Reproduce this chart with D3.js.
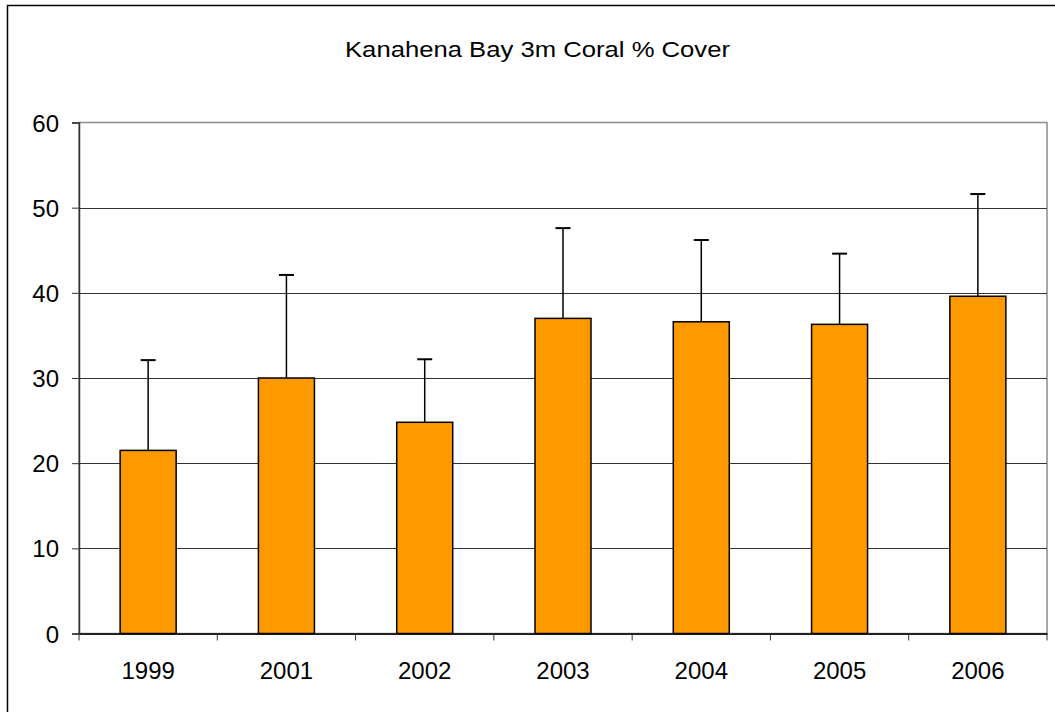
<!DOCTYPE html>
<html>
<head>
<meta charset="utf-8">
<script src="https://cdn.jsdelivr.net/npm/d3@7"></script>
<style>
  body { margin: 0; background: #fff; }
  text { font-family: Arial, "Liberation Sans", sans-serif; fill: #000; }
</style>
</head>
<body>
<svg id="chart" width="1055" height="712"></svg>
<script>
var years = ['1999', '2001', '2002', '2003', '2004', '2005', '2006'];
var cover = [21.5, 30.0, 24.8, 37.0, 36.6, 36.3, 39.6];
var errTop = [32.1, 42.1, 32.2, 47.6, 46.2, 44.6, 51.6];
var yTicks = [0, 10, 20, 30, 40, 50, 60];

var LEFT = 79, RIGHT = 1047, TOP = 122.5, BOTTOM = 633.5;

var svg = d3.select('#chart');

// outer chart border (only left and top visible)
svg.append('rect')
    .attr('x', 7.5).attr('y', 5.5)
    .attr('width', 1200).attr('height', 900)
    .attr('fill', 'none')
    .attr('stroke', '#000')
    .attr('stroke-width', 1.5);

svg.append('text')
    .attr('x', 537.5).attr('y', 57)
    .attr('text-anchor', 'middle')
    .attr('textLength', 385)
    .attr('lengthAdjust', 'spacingAndGlyphs')
    .style('font-size', '22px')
    .text('Kanahena Bay 3m Coral % Cover');

var x = d3.scaleBand().domain(years).range([LEFT, RIGHT]);
var y = d3.scaleLinear().domain([0, 60]).range([BOTTOM, TOP]);

// plot area frame
svg.append('rect')
    .attr('x', LEFT).attr('y', TOP)
    .attr('width', RIGHT - LEFT).attr('height', BOTTOM - TOP)
    .attr('fill', 'none')
    .attr('stroke', '#8c8c8c')
    .attr('stroke-width', 1.5);

// gridlines
svg.append('g').selectAll('line')
    .data(yTicks.slice(1, -1))
    .enter().append('line')
    .attr('x1', LEFT).attr('x2', RIGHT)
    .attr('y1', (d) => Math.round(y(d)) + 0.5)
    .attr('y2', (d) => Math.round(y(d)) + 0.5)
    .attr('stroke', '#333')
    .attr('stroke-width', 1);

// y axis
var yAxis = svg.append('g')
    .attr('transform', 'translate(' + LEFT + ',0)')
    .call(d3.axisLeft(y).tickValues(yTicks).tickSize(7).tickPadding(13).tickFormat(d3.format('d')));
yAxis.select('.domain').attr('stroke', '#333').attr('stroke-width', 1.5);
yAxis.selectAll('.tick line').attr('stroke', '#333');
yAxis.selectAll('text').style('font-size', '24px').attr('font-family', null).attr('dy', '0.36em');

// x axis
var xAxis = svg.append('g')
    .attr('transform', 'translate(0,' + BOTTOM + ')')
    .call(d3.axisBottom(x).tickSize(0).tickPadding(0));
xAxis.select('.domain').attr('stroke', '#222').attr('stroke-width', 2);
xAxis.selectAll('text').style('font-size', '24px').attr('font-family', null)
    .attr('dy', null).attr('y', 45.5);

// category separators on x axis
svg.append('g').selectAll('line')
    .data(years.concat(['end']))
    .enter().append('line')
    .attr('x1', (d, i) => LEFT + i * x.step())
    .attr('x2', (d, i) => LEFT + i * x.step())
    .attr('y1', BOTTOM).attr('y2', BOTTOM + 7)
    .attr('stroke', '#333');

var barW = x.bandwidth() * 0.405;
var data = years.map((d, i) => ({ year: d, value: cover[i], err: errTop[i] }));

// error bars
var eb = svg.append('g');
eb.selectAll('line.stem')
    .data(data)
    .enter().append('line')
    .attr('class', 'stem')
    .attr('x1', (d) => x(d.year) + x.bandwidth() / 2)
    .attr('x2', (d) => x(d.year) + x.bandwidth() / 2)
    .attr('y1', (d) => y(d.value))
    .attr('y2', (d) => y(d.err))
    .attr('stroke', '#000')
    .attr('stroke-width', 1.5);
eb.selectAll('line.cap')
    .data(data)
    .enter().append('line')
    .attr('class', 'cap')
    .attr('x1', (d) => x(d.year) + x.bandwidth() / 2 - 7.5)
    .attr('x2', (d) => x(d.year) + x.bandwidth() / 2 + 7.5)
    .attr('y1', (d) => y(d.err))
    .attr('y2', (d) => y(d.err))
    .attr('stroke', '#000')
    .attr('stroke-width', 2);

// bars
svg.append('g').selectAll('rect')
    .data(data)
    .enter().append('rect')
    .attr('x', (d) => x(d.year) + (x.bandwidth() - barW) / 2)
    .attr('y', (d) => y(d.value))
    .attr('width', barW)
    .attr('height', (d) => y(0) - y(d.value))
    .attr('fill', '#FF9900')
    .attr('stroke', '#000')
    .attr('stroke-width', 1.5);
</script>
</body>
</html>
